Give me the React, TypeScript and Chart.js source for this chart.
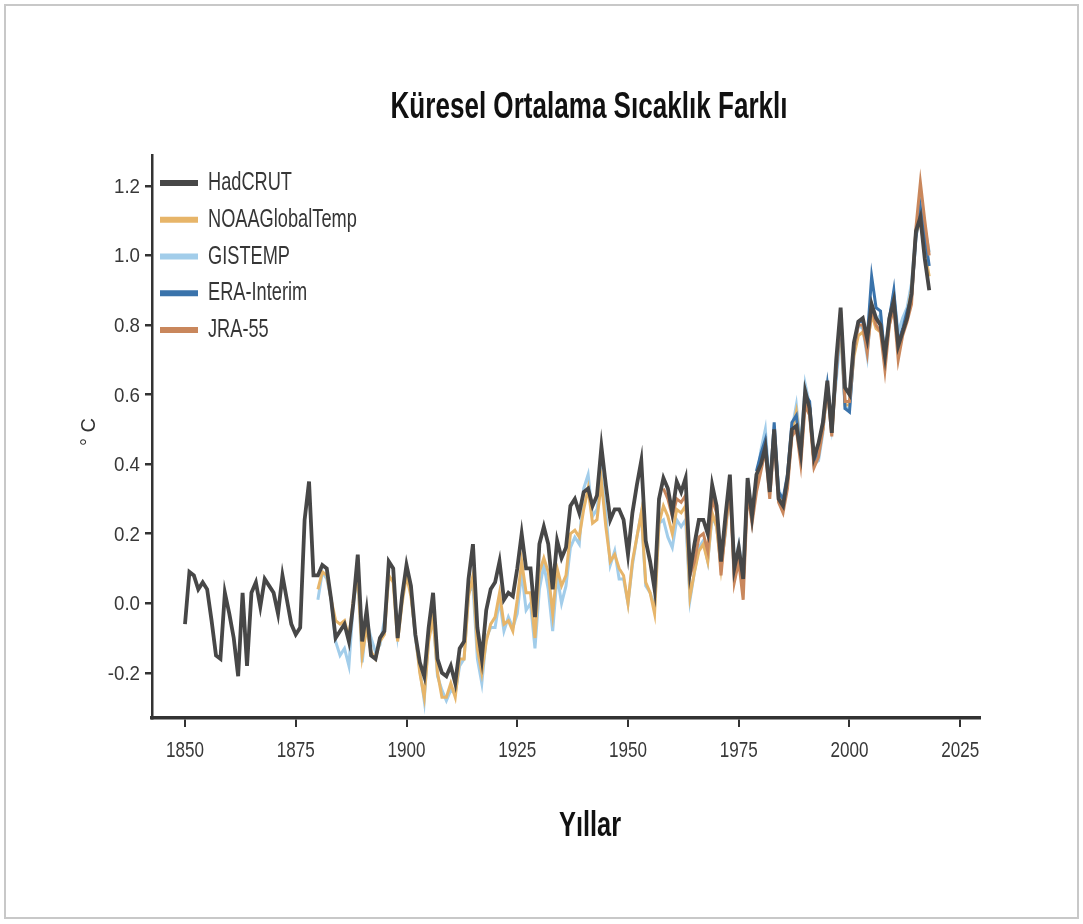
import React, { useEffect, useRef } from 'react';
import { Chart, registerables } from 'chart.js';

Chart.register(...registerables);

// ---------- data ----------
const TITLE = 'Küresel Ortalama Sıcaklık Farklı';
const X_TITLE = 'Yıllar';
const Y_TITLE = '° C';

const xTickYears = [1850, 1875, 1900, 1925, 1950, 1975, 2000, 2025];
const yTickValues = [-0.2, 0.0, 0.2, 0.4, 0.6, 0.8, 1.0, 1.2];

const seriesNames = ['HadCRUT', 'NOAAGlobalTemp', 'GISTEMP', 'ERA-Interim', 'JRA-55'];
const seriesColors = ['#474747', '#e7b569', '#a2cdea', '#3a73ab', '#c9875c'];

const HADCRUT_START = 1850;
const hadcrut = [
  -0.06, 0.09, 0.08, 0.04, 0.06, 0.04, -0.05, -0.15, -0.16, 0.03,
  -0.03, -0.10, -0.21, 0.03, -0.18, 0.03, 0.06, -0.01, 0.07, 0.05,
  0.03, -0.03, 0.08, 0.01, -0.06, -0.09, -0.07, 0.24, 0.35, 0.08,
  0.08, 0.11, 0.10, 0.01, -0.10, -0.08, -0.06, -0.11, 0.00, 0.14,
  -0.11, -0.02, -0.15, -0.16, -0.10, -0.08, 0.12, 0.10, -0.10, 0.02,
  0.11, 0.05, -0.09, -0.17, -0.21, -0.07, 0.03, -0.16, -0.20, -0.21,
  -0.18, -0.23, -0.13, -0.11, 0.07, 0.17, -0.07, -0.16, -0.02, 0.04,
  0.06, 0.12, 0.01, 0.03, 0.02, 0.10, 0.20, 0.10, 0.10, -0.04,
  0.17, 0.22, 0.17, 0.04, 0.18, 0.13, 0.16, 0.28, 0.30, 0.26,
  0.32, 0.33, 0.28, 0.31, 0.45, 0.34, 0.24, 0.27, 0.27, 0.24,
  0.14, 0.26, 0.34, 0.41, 0.18, 0.12, 0.04, 0.30, 0.36, 0.33,
  0.26, 0.35, 0.32, 0.36, 0.09, 0.17, 0.24, 0.24, 0.20, 0.34,
  0.28, 0.12, 0.25, 0.37, 0.10, 0.16, 0.07, 0.36, 0.25, 0.37,
  0.40, 0.45, 0.32, 0.50, 0.30, 0.28, 0.36, 0.50, 0.51, 0.43,
  0.61, 0.56, 0.42, 0.46, 0.52, 0.64, 0.49, 0.70, 0.85, 0.62,
  0.60, 0.75, 0.81, 0.82, 0.76, 0.86, 0.82, 0.80, 0.71, 0.82,
  0.87, 0.74, 0.78, 0.82, 0.89, 1.07, 1.11, 0.99, 0.90,
];

const NOAA_START = 1880;
const noaa = [
  0.04, 0.09, 0.08, 0.01, -0.05, -0.06, -0.05, -0.10, 0.01, 0.08,
  -0.15, -0.07, -0.14, -0.16, -0.11, -0.09, 0.08, 0.06, -0.11, 0.00,
  0.08, 0.02, -0.09, -0.20, -0.27, -0.11, -0.04, -0.20, -0.27, -0.27,
  -0.23, -0.27, -0.16, -0.16, 0.02, 0.08, -0.13, -0.20, -0.11, -0.06,
  -0.04, 0.03, -0.06, -0.05, -0.08, 0.01, 0.12, 0.03, 0.03, -0.10,
  0.09, 0.13, 0.09, -0.03, 0.10, 0.05, 0.08, 0.20, 0.21, 0.19,
  0.27, 0.33, 0.23, 0.24, 0.35, 0.22, 0.12, 0.14, 0.10, 0.08,
  0.00, 0.12, 0.19, 0.26, 0.06, 0.03, -0.03, 0.23, 0.28, 0.25,
  0.20, 0.27, 0.26, 0.28, 0.02, 0.09, 0.15, 0.17, 0.12, 0.26,
  0.22, 0.10, 0.21, 0.33, 0.10, 0.15, 0.06, 0.34, 0.25, 0.34,
  0.42, 0.46, 0.33, 0.50, 0.31, 0.29, 0.35, 0.49, 0.55, 0.44,
  0.59, 0.55, 0.40, 0.44, 0.50, 0.62, 0.49, 0.68, 0.79, 0.57,
  0.57, 0.71, 0.77, 0.78, 0.74, 0.83, 0.79, 0.78, 0.71, 0.80,
  0.86, 0.74, 0.78, 0.83, 0.90, 1.06, 1.10, 1.01, 0.94,
];

const GISTEMP_START = 1880;
const gistemp = [
  0.01, 0.09, 0.07, 0.01, -0.11, -0.15, -0.13, -0.18, 0.00, 0.08,
  -0.17, -0.05, -0.10, -0.14, -0.12, -0.05, 0.07, 0.07, -0.09, 0.01,
  0.09, 0.03, -0.10, -0.19, -0.28, -0.09, -0.04, -0.21, -0.25, -0.28,
  -0.25, -0.26, -0.18, -0.16, 0.03, 0.05, -0.16, -0.23, -0.10, -0.07,
  -0.07, 0.01, -0.08, -0.04, -0.07, -0.03, 0.09, -0.02, 0.00, -0.13,
  0.04, 0.11, 0.04, -0.08, 0.08, 0.00, 0.05, 0.16, 0.19, 0.17,
  0.33, 0.37, 0.25, 0.27, 0.37, 0.26, 0.11, 0.15, 0.07, 0.07,
  0.00, 0.11, 0.19, 0.26, 0.05, 0.03, -0.01, 0.23, 0.24, 0.19,
  0.16, 0.24, 0.22, 0.24, 0.01, 0.09, 0.16, 0.18, 0.12, 0.25,
  0.22, 0.11, 0.20, 0.34, 0.11, 0.17, 0.08, 0.36, 0.25, 0.35,
  0.44, 0.50, 0.33, 0.49, 0.33, 0.29, 0.36, 0.50, 0.57, 0.45,
  0.63, 0.57, 0.40, 0.41, 0.49, 0.63, 0.51, 0.64, 0.78, 0.56,
  0.56, 0.72, 0.80, 0.79, 0.71, 0.86, 0.81, 0.83, 0.71, 0.82,
  0.89, 0.78, 0.82, 0.85, 0.92, 1.07, 1.16, 1.08, 1.01,
];

const ERA_START = 1979;
const eraInterim = [
  0.38,
  0.43, 0.47, 0.33, 0.52, 0.32, 0.30, 0.37, 0.52, 0.54, 0.43,
  0.60, 0.58, 0.40, 0.44, 0.52, 0.63, 0.52, 0.66, 0.83, 0.56,
  0.55, 0.73, 0.81, 0.81, 0.76, 0.94, 0.85, 0.84, 0.70, 0.82,
  0.90, 0.75, 0.79, 0.84, 0.88, 1.05, 1.14, 1.06, 0.97,
];

const JRA_START = 1958;
const jra55 = [
  0.33, 0.30,
  0.25, 0.30, 0.29, 0.31, 0.08, 0.12, 0.19, 0.20, 0.15, 0.30,
  0.26, 0.08, 0.22, 0.34, 0.06, 0.12, 0.01, 0.32, 0.23, 0.32,
  0.38, 0.44, 0.30, 0.47, 0.29, 0.26, 0.33, 0.48, 0.50, 0.40,
  0.57, 0.54, 0.39, 0.42, 0.50, 0.62, 0.48, 0.67, 0.84, 0.58,
  0.58, 0.73, 0.80, 0.80, 0.72, 0.85, 0.80, 0.78, 0.67, 0.80,
  0.85, 0.70, 0.77, 0.81, 0.86, 1.08, 1.21, 1.10, 1.00,
];

// ---------- helpers ----------
const toPoints = (start: number, values: number[]) =>
  values.map((v, i) => ({ x: start + i, y: v }));

function drawText(
  ctx: CanvasRenderingContext2D,
  text: string,
  x: number,
  y: number,
  font: string,
  color: string,
  sx: number,
  align: CanvasTextAlign,
) {
  ctx.save();
  ctx.font = font;
  ctx.fillStyle = color;
  ctx.textAlign = align;
  ctx.textBaseline = 'alphabetic';
  ctx.translate(x, y);
  ctx.scale(sx, 1);
  ctx.fillText(text, 0, 0);
  ctx.restore();
}

function fitScale(ctx: CanvasRenderingContext2D, text: string, font: string, target: number) {
  ctx.save();
  ctx.font = font;
  const w = ctx.measureText(text).width;
  ctx.restore();
  return w > 0 ? target / w : 1;
}

const FONT_FAMILY = '"Liberation Sans", Arial, sans-serif';

const decorPlugin = {
  id: 'decor',
  afterDraw(chart: any) {
    const ctx: CanvasRenderingContext2D = chart.ctx;
    const xs = chart.scales.x;
    const ys = chart.scales.y;
    const area = chart.chartArea;

    // title
    const titleFont = `bold 36px ${FONT_FAMILY}`;
    drawText(ctx, TITLE, 589, 118, titleFont, '#111111', fitScale(ctx, TITLE, titleFont, 397), 'center');

    // x title
    const xtFont = `bold 35px ${FONT_FAMILY}`;
    drawText(ctx, X_TITLE, 590, 836, xtFont, '#111111', fitScale(ctx, X_TITLE, xtFont, 62), 'center');

    // y title (rotated)
    ctx.save();
    ctx.translate(89, 432);
    ctx.rotate(-Math.PI / 2);
    ctx.font = `20px ${FONT_FAMILY}`;
    ctx.fillStyle = '#333333';
    ctx.textAlign = 'center';
    ctx.textBaseline = 'middle';
    ctx.fillText(Y_TITLE, 0, 0);
    ctx.restore();

    // x tick labels
    const xtickFont = `22px ${FONT_FAMILY}`;
    const xsx = fitScale(ctx, '1850', xtickFont, 38);
    xs.ticks.forEach((t: any) => {
      const px = xs.getPixelForValue(t.value);
      drawText(ctx, String(t.value), px, area.bottom + 39, xtickFont, '#383838', xsx, 'center');
    });

    // y tick labels
    const ytickFont = `20px ${FONT_FAMILY}`;
    const ysx = fitScale(ctx, '1.2', ytickFont, 26);
    ys.ticks.forEach((t: any) => {
      const py = ys.getPixelForValue(t.value);
      drawText(ctx, Number(t.value).toFixed(1), area.left - 12, py + 7, ytickFont, '#383838', ysx, 'right');
    });

    // legend
    const legFont = `26px ${FONT_FAMILY}`;
    const lsx = fitScale(ctx, 'HadCRUT', legFont, 84);
    chart.data.datasets.forEach((ds: any, i: number) => {
      const cy = area.top + 28 + i * 36.75;
      ctx.save();
      ctx.strokeStyle = ds.borderColor;
      ctx.lineWidth = 6;
      ctx.lineCap = 'butt';
      ctx.beginPath();
      ctx.moveTo(area.left + 8, cy);
      ctx.lineTo(area.left + 46, cy);
      ctx.stroke();
      ctx.restore();
      drawText(ctx, ds.label, area.left + 56, cy + 7, legFont, '#363636', lsx, 'left');
    });
  },
};

export default function App() {
  const canvasRef = useRef<HTMLCanvasElement | null>(null);

  useEffect(() => {
    const canvas = canvasRef.current;
    if (!canvas) return;

    const starts = [HADCRUT_START, NOAA_START, GISTEMP_START, ERA_START, JRA_START];
    const values = [hadcrut, noaa, gistemp, eraInterim, jra55];
    const drawOrder = [0, 3, 4, 2, 1];

    const datasets = seriesNames.map((name, i) => ({
      label: name,
      data: toPoints(starts[i], values[i]),
      borderColor: seriesColors[i],
      backgroundColor: seriesColors[i],
      borderWidth: i === 0 ? 3.8 : 3,
      pointRadius: 0,
      tension: 0,
      fill: false,
      order: drawOrder[i],
    }));

    const axisColor = '#333333';

    const chart = new Chart(canvas, {
      type: 'line',
      data: { datasets },
      options: {
        animation: false,
        responsive: false,
        maintainAspectRatio: false,
        layout: { padding: { left: 0, right: 103, top: 155, bottom: 156 } },
        plugins: {
          legend: { display: false },
          title: { display: false },
          tooltip: { enabled: false },
        },
        scales: {
          x: {
            type: 'linear',
            min: 1842.55,
            max: 2029.46,
            afterBuildTicks: (s: any) => {
              s.ticks = xTickYears.map((v) => ({ value: v }));
            },
            afterFit: (s: any) => {
              s.height = 50;
            },
            ticks: { display: false },
            grid: {
              display: true,
              drawOnChartArea: false,
              drawTicks: true,
              tickLength: 9,
              color: axisColor,
              lineWidth: 2,
            },
            border: { display: true, color: axisColor, width: 3.5 },
          },
          y: {
            type: 'linear',
            min: -0.33,
            max: 1.289,
            afterBuildTicks: (s: any) => {
              s.ticks = yTickValues.map((v) => ({ value: v }));
            },
            afterFit: (s: any) => {
              s.width = 152;
            },
            ticks: { display: false },
            grid: {
              display: true,
              drawOnChartArea: false,
              drawTicks: true,
              tickLength: 7,
              color: axisColor,
              lineWidth: 2.5,
            },
            border: { display: true, color: axisColor, width: 2.5 },
          },
        },
      },
      plugins: [decorPlugin],
    });

    return () => chart.destroy();
  }, []);

  return (
    <div style={{ position: 'relative', width: 1083, height: 924, background: '#ffffff', overflow: 'hidden' }}>
      <style>{'body{margin:0;}'}</style>
      <canvas
        ref={canvasRef}
        width={1083}
        height={924}
        style={{ position: 'absolute', left: 0, top: 0, width: 1083, height: 924 }}
      />
      <div
        style={{
          position: 'absolute',
          left: 4,
          top: 4,
          width: 1071,
          height: 911,
          border: '2px solid #c8c8c8',
          pointerEvents: 'none',
        }}
      />
    </div>
  );
}
